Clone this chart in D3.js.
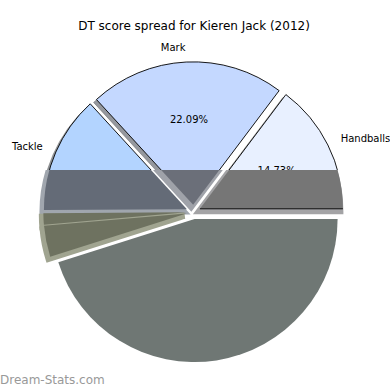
<!DOCTYPE html>
<html>
<head>
<meta charset="utf-8">
<script src="https://cdn.jsdelivr.net/npm/d3@7"></script>
<style>
  body { margin: 0; background: #fff; }
  text { font-family: "DejaVu Sans", sans-serif; }
</style>
</head>
<body>
<div id="chart"></div>
<script>
// data: share of DT score per stat (percent)
var categories = ["Handballs", "Mark", "Tackle", "Free", "Goal", "Kick"];
var values = [14.73, 22.09, 13.27, 1.30, 3.50, 45.11];

// palette: normal wedge colour, and the darkened lower half
var colors = ["#e8f0ff", "#c4d8ff", "#b3d4ff", "#dde3c0", "#dde3c0", "#dfeee8"];
var darkColors = ["#767676", "#6b6f79", "#646b77", "#6e7260", "#6e7260", "#6f7774"];
var bandColors = ["#a3a3a5", "#9fa2a9", "#a0a6ae", "#a0a490", "#a0a490", "none"];

var width = 390;
var height = 390;
var cx = 193.5;
var cy = 212;
var radius = 143;
var explode = 0.05 * radius;
var shadowOff = 0.02 * radius;
var cutY = 170;

var svg = d3
  .select("#chart")
  .append("svg")
  .attr("width", width)
  .attr("height", height);

svg.append("rect").attr("width", width).attr("height", height).attr("fill", "#fff");

// title
svg
  .append("text")
  .attr("x", 194)
  .attr("y", 30)
  .attr("text-anchor", "middle")
  .attr("font-size", "12px")
  .attr("fill", "#000")
  .text("DT score spread for Kieren Jack (2012)");

// counter-clockwise from 3 o'clock, like matplotlib
var pie = d3
  .pie()
  .sort(null)
  .value(function(d) { return d; })
  .startAngle(Math.PI / 2)
  .endAngle(Math.PI / 2 - 2 * Math.PI);

var arcs = pie(values);
var arc = d3.arc().innerRadius(0).outerRadius(radius);

function midAngle(a) {
  return (a.startAngle + a.endAngle) / 2;
}
function offset(a, k) {
  var m = midAngle(a);
  return [cx + Math.sin(m) * k, cy - Math.cos(m) * k];
}
function shadowColor(c) {
  var rgb = d3.rgb(c);
  return d3.rgb(120 + 0.15 * rgb.r, 120 + 0.15 * rgb.g, 120 + 0.15 * rgb.b);
}

// upper (normal) rendering
var upper = svg.append("g");

upper
  .selectAll(".shadow")
  .data(arcs)
  .enter()
  .append("path")
  .attr("class", "shadow")
  .attr("d", arc)
  .attr("transform", function(d) {
    var p = offset(d, explode);
    return "translate(" + (p[0] - shadowOff) + "," + (p[1] + shadowOff) + ")";
  })
  .attr("fill", function(d, i) { return shadowColor(colors[i]); })
  .attr("stroke", "#777")
  .attr("stroke-width", 0.6);

upper
  .selectAll(".wedge")
  .data(arcs)
  .enter()
  .append("path")
  .attr("class", "wedge")
  .attr("d", arc)
  .attr("transform", function(d) {
    var p = offset(d, explode);
    return "translate(" + p[0] + "," + p[1] + ")";
  })
  .attr("fill", function(d, i) { return colors[i]; })
  .attr("stroke", "#000")
  .attr("stroke-width", 0.9);

// percent labels
upper
  .selectAll(".pct")
  .data(arcs)
  .enter()
  .append("text")
  .attr("class", "pct")
  .attr("x", function(d) { return offset(d, explode + 0.6 * radius)[0]; })
  .attr("y", function(d) { return offset(d, explode + 0.6 * radius)[1]; })
  .attr("text-anchor", "middle")
  .attr("dominant-baseline", "central")
  .attr("font-size", "10px")
  .text(function(d) { return d.value.toFixed(2) + "%"; });

// category labels
upper
  .selectAll(".lbl")
  .data(arcs)
  .enter()
  .append("text")
  .attr("class", "lbl")
  .attr("x", function(d) { return offset(d, explode + 1.1 * radius)[0]; })
  .attr("y", function(d) { return offset(d, explode + 1.1 * radius)[1]; })
  .attr("text-anchor", function(d) { return Math.sin(midAngle(d)) > 0 ? "start" : "end"; })
  .attr("dominant-baseline", "central")
  .attr("font-size", "10px")
  .text(function(d, i) { return categories[i]; });

// lower part: darkened wedges with wide pale shadow bands
svg
  .append("clipPath")
  .attr("id", "lowClip")
  .append("rect")
  .attr("x", 0)
  .attr("y", cutY)
  .attr("width", width)
  .attr("height", height - cutY);

var lower = svg.append("g").attr("clip-path", "url(#lowClip)");
lower.append("rect").attr("width", width).attr("height", height).attr("fill", "#fff");

lower
  .selectAll(".band")
  .data(arcs)
  .enter()
  .append("path")
  .attr("class", "band")
  .attr("d", arc)
  .attr("transform", function(d) {
    var p = offset(d, explode);
    return "translate(" + (p[0] - 2) + "," + (p[1] + 3) + ")";
  })
  .attr("fill", function(d, i) { return bandColors[i]; })
  .attr("stroke", function(d, i) { return bandColors[i]; })
  .attr("stroke-width", 5)
  .attr("stroke-linejoin", "miter");

lower
  .selectAll(".dark")
  .data(arcs)
  .enter()
  .append("path")
  .attr("class", "dark")
  .attr("d", arc)
  .attr("transform", function(d) {
    var p = offset(d, explode);
    return "translate(" + p[0] + "," + p[1] + ")";
  })
  .attr("fill", function(d, i) { return darkColors[i]; });

// first wedge keeps its straight edge line
var first = arcs[0];
var tip = offset(first, explode);
lower
  .append("line")
  .attr("x1", tip[0])
  .attr("y1", tip[1])
  .attr("x2", tip[0] + Math.sin(first.startAngle) * radius)
  .attr("y2", tip[1] - Math.cos(first.startAngle) * radius)
  .attr("stroke", "#000")
  .attr("stroke-width", 0.9);

// watermark
svg
  .append("text")
  .attr("x", 0)
  .attr("y", 384)
  .attr("font-size", "12px")
  .attr("fill", "#999")
  .text("Dream-Stats.com");
</script>
</body>
</html>
